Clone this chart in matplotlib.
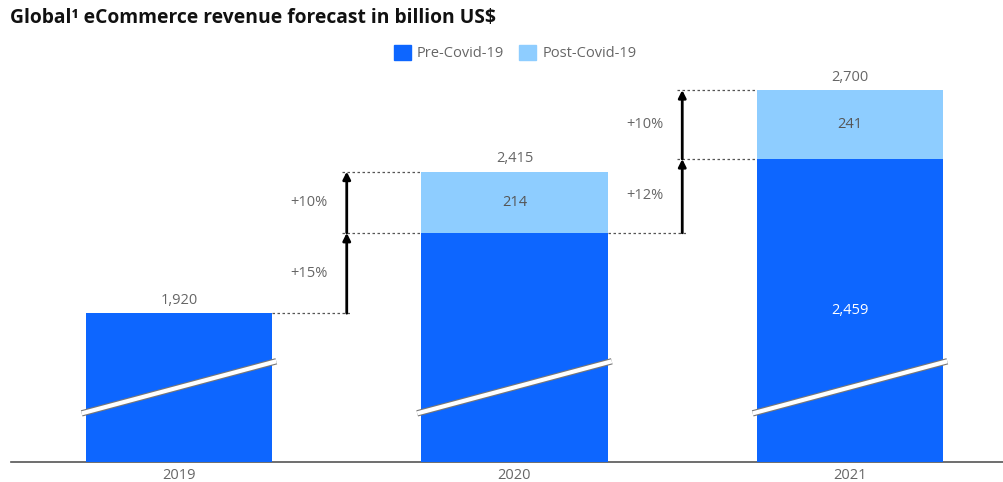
import matplotlib.pyplot as plt
from matplotlib.patches import Patch

plt.rcParams['font.family'] = ['Open Sans', 'DejaVu Sans']

years = ['2019', '2020', '2021']
pre_covid = [1920, 2201, 2459]
post_covid = [0, 214, 241]
totals = [1920, 2415, 2700]
growth_pre = ['+15%', '+12%']
growth_post = ['+10%', '+10%']

c_pre = '#0d66ff'
c_post = '#8ecdff'
grey = '#666666'

fig = plt.figure(figsize=(10.04, 4.82), dpi=100)
ax = fig.add_axes([11 / 1004, 20 / 482, 993 / 1004, 402 / 482])

x = range(len(years))
w = 0.555
ax.bar(x, pre_covid, width=w, color=c_pre, zorder=3)
ax.bar(x, post_covid, width=w, bottom=pre_covid, color=c_post, zorder=3)

# broken axis marks
for i in x:
    xs = [i - 0.29, i + 0.29]
    ys = [1570, 1752]
    ax.plot(xs, ys, color='#777777', lw=4.6, solid_capstyle='butt', zorder=4)
    ax.plot(xs, ys, color='white', lw=3.0, solid_capstyle='butt', zorder=5)

# labels
for i in x:
    ax.text(i, totals[i] + 18, f'{totals[i]:,}', ha='center', va='bottom',
            fontsize=10.5, color=grey, zorder=6)
    if post_covid[i]:
        ax.text(i, pre_covid[i] + post_covid[i] / 2, f'{post_covid[i]:,}',
                ha='center', va='center', fontsize=10.5, color='#555555', zorder=6)
ax.text(2, 1928, f'{pre_covid[2]:,}', ha='center', va='center',
        fontsize=10.5, color='white', zorder=6)

# growth arrows
for k in range(2):
    xa = k + 0.5
    y0 = pre_covid[k]
    y1 = pre_covid[k + 1]
    y2 = totals[k + 1]
    ax.plot([k + w / 2, xa + 0.01], [y0, y0], ls=(0, (2, 2)), color='#555555', lw=0.9, zorder=2)
    ax.plot([xa - 0.015, k + 1 - w / 2], [y1, y1], ls=(0, (2, 2)), color='#555555', lw=0.9, zorder=2)
    ax.plot([xa - 0.015, k + 1 - w / 2], [y2, y2], ls=(0, (2, 2)), color='#555555', lw=0.9, zorder=2)
    for ya, yb in [(y0, y1), (y1, y2)]:
        ax.annotate('', xy=(xa, yb), xytext=(xa, ya),
                    arrowprops=dict(arrowstyle='-|>', color='black', lw=2,
                                    mutation_scale=11, shrinkA=0, shrinkB=0),
                    zorder=6)
    ax.text(xa - 0.056, (y0 + y1) / 2, growth_pre[k], ha='right', va='center',
            fontsize=10.5, color=grey)
    ax.text(xa - 0.056, (y1 + y2) / 2, growth_post[k], ha='right', va='center',
            fontsize=10.5, color=grey)

ax.set_xlim(-0.5007, 2.459)
ax.set_ylim(1400, 2805)
ax.set_xticks(list(x))
ax.set_xticklabels(years, fontsize=10.5, color=grey)
ax.tick_params(axis='x', length=0, pad=4)
ax.set_yticks([])
for s in ['top', 'right', 'left']:
    ax.spines[s].set_visible(False)
ax.spines['bottom'].set_color('#555555')
ax.spines['bottom'].set_linewidth(1.2)

fig.text(10 / 1004, 1 - 18 / 482, 'Global¹ eCommerce revenue forecast in billion US$',
         fontsize=13.9, fontweight='bold', va='center', ha='left', color='#111111')

handles = [Patch(color=c_pre, label='Pre-Covid-19'), Patch(color=c_post, label='Post-Covid-19')]
fig.legend(handles=handles, loc='center', bbox_to_anchor=(515 / 1004, 1 - 53 / 482),
           ncol=2, frameon=False, fontsize=10.5, labelcolor=grey,
           handlelength=1.2, handleheight=1.2, handletextpad=0.4, columnspacing=1.0)

fig.savefig('out.png', dpi=100)
